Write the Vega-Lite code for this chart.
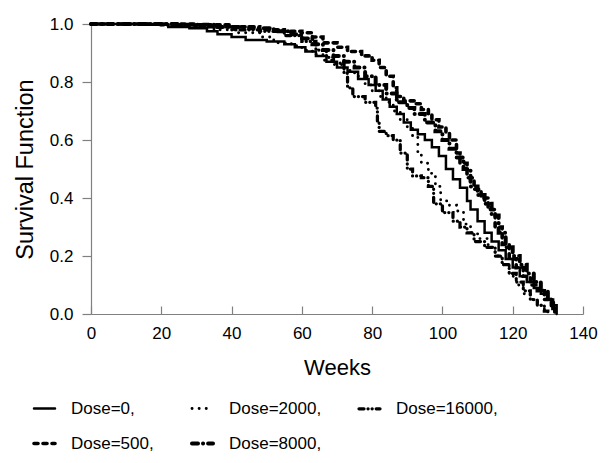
{
  "$schema": "https://vega.github.io/schema/vega-lite/v6.json",
  "width": 492,
  "height": 290,
  "autosize": {"type": "none"},
  "padding": {"left": 91, "top": 24, "right": 31, "bottom": 149},
  "background": "white",
  "config": {
    "view": {"stroke": null},
    "font": "Liberation Sans",
    "axis": {"grid": false, "domainColor": "#808080", "tickColor": "#808080", "labelColor": "#000", "titleColor": "#000", "labelFont": "Liberation Sans", "titleFont": "Liberation Sans", "labelFontSize": 17, "titleFontSize": 22, "titleFontWeight": "normal", "domainWidth": 1.2, "tickWidth": 1.2},
    "legend": {"labelFont": "Liberation Sans", "labelFontSize": 17, "labelColor": "#000"}
  },
  "datasets": {
    "km": [
      {"dose": "Dose=0,", "w": 0, "s": 1}, {"dose": "Dose=0,", "w": 15, "s": 0.997}, {"dose": "Dose=0,", "w": 22, "s": 0.99}, {"dose": "Dose=0,", "w": 28, "s": 0.985}, {"dose": "Dose=0,", "w": 33, "s": 0.975}, {"dose": "Dose=0,", "w": 36, "s": 0.965}, {"dose": "Dose=0,", "w": 40, "s": 0.955}, {"dose": "Dose=0,", "w": 44, "s": 0.945}, {"dose": "Dose=0,", "w": 50, "s": 0.94}, {"dose": "Dose=0,", "w": 55, "s": 0.93}, {"dose": "Dose=0,", "w": 58, "s": 0.92}, {"dose": "Dose=0,", "w": 61, "s": 0.905}, {"dose": "Dose=0,", "w": 64, "s": 0.89}, {"dose": "Dose=0,", "w": 67, "s": 0.87}, {"dose": "Dose=0,", "w": 70, "s": 0.85}, {"dose": "Dose=0,", "w": 73, "s": 0.835}, {"dose": "Dose=0,", "w": 76, "s": 0.81}, {"dose": "Dose=0,", "w": 79, "s": 0.79}, {"dose": "Dose=0,", "w": 81, "s": 0.77}, {"dose": "Dose=0,", "w": 83, "s": 0.74}, {"dose": "Dose=0,", "w": 85, "s": 0.715}, {"dose": "Dose=0,", "w": 87, "s": 0.69}, {"dose": "Dose=0,", "w": 89, "s": 0.66}, {"dose": "Dose=0,", "w": 91, "s": 0.635}, {"dose": "Dose=0,", "w": 93, "s": 0.62}, {"dose": "Dose=0,", "w": 95, "s": 0.6}, {"dose": "Dose=0,", "w": 97, "s": 0.575}, {"dose": "Dose=0,", "w": 99, "s": 0.545}, {"dose": "Dose=0,", "w": 101, "s": 0.5}, {"dose": "Dose=0,", "w": 103, "s": 0.465}, {"dose": "Dose=0,", "w": 105, "s": 0.435}, {"dose": "Dose=0,", "w": 107, "s": 0.39}, {"dose": "Dose=0,", "w": 108, "s": 0.36}, {"dose": "Dose=0,", "w": 110, "s": 0.32}, {"dose": "Dose=0,", "w": 112, "s": 0.28}, {"dose": "Dose=0,", "w": 114, "s": 0.25}, {"dose": "Dose=0,", "w": 116, "s": 0.22}, {"dose": "Dose=0,", "w": 118, "s": 0.19}, {"dose": "Dose=0,", "w": 120, "s": 0.16}, {"dose": "Dose=0,", "w": 122, "s": 0.13}, {"dose": "Dose=0,", "w": 124, "s": 0.11}, {"dose": "Dose=0,", "w": 126, "s": 0.09}, {"dose": "Dose=0,", "w": 128, "s": 0.07}, {"dose": "Dose=0,", "w": 130, "s": 0.05}, {"dose": "Dose=0,", "w": 131.5, "s": 0.03}, {"dose": "Dose=0,", "w": 132.5, "s": 0},

      {"dose": "Dose=500,", "w": 0, "s": 1}, {"dose": "Dose=500,", "w": 30, "s": 0.997}, {"dose": "Dose=500,", "w": 40, "s": 0.99}, {"dose": "Dose=500,", "w": 48, "s": 0.98}, {"dose": "Dose=500,", "w": 55, "s": 0.975}, {"dose": "Dose=500,", "w": 60, "s": 0.97}, {"dose": "Dose=500,", "w": 63, "s": 0.955}, {"dose": "Dose=500,", "w": 66, "s": 0.935}, {"dose": "Dose=500,", "w": 70, "s": 0.92}, {"dose": "Dose=500,", "w": 73, "s": 0.905}, {"dose": "Dose=500,", "w": 77, "s": 0.89}, {"dose": "Dose=500,", "w": 80, "s": 0.875}, {"dose": "Dose=500,", "w": 82, "s": 0.85}, {"dose": "Dose=500,", "w": 84, "s": 0.82}, {"dose": "Dose=500,", "w": 86, "s": 0.78}, {"dose": "Dose=500,", "w": 87, "s": 0.75}, {"dose": "Dose=500,", "w": 89, "s": 0.735}, {"dose": "Dose=500,", "w": 92, "s": 0.725}, {"dose": "Dose=500,", "w": 94, "s": 0.705}, {"dose": "Dose=500,", "w": 96, "s": 0.69}, {"dose": "Dose=500,", "w": 97, "s": 0.67}, {"dose": "Dose=500,", "w": 99, "s": 0.645}, {"dose": "Dose=500,", "w": 101, "s": 0.625}, {"dose": "Dose=500,", "w": 102, "s": 0.6}, {"dose": "Dose=500,", "w": 104, "s": 0.555}, {"dose": "Dose=500,", "w": 105, "s": 0.52}, {"dose": "Dose=500,", "w": 107, "s": 0.47}, {"dose": "Dose=500,", "w": 109, "s": 0.43}, {"dose": "Dose=500,", "w": 111, "s": 0.4}, {"dose": "Dose=500,", "w": 113, "s": 0.36}, {"dose": "Dose=500,", "w": 115, "s": 0.3}, {"dose": "Dose=500,", "w": 117, "s": 0.24}, {"dose": "Dose=500,", "w": 119, "s": 0.19}, {"dose": "Dose=500,", "w": 121, "s": 0.16}, {"dose": "Dose=500,", "w": 123, "s": 0.13}, {"dose": "Dose=500,", "w": 125, "s": 0.1}, {"dose": "Dose=500,", "w": 127, "s": 0.08}, {"dose": "Dose=500,", "w": 129, "s": 0.05}, {"dose": "Dose=500,", "w": 131, "s": 0.02}, {"dose": "Dose=500,", "w": 132, "s": 0},

      {"dose": "Dose=2000,", "w": 0, "s": 1}, {"dose": "Dose=2000,", "w": 20, "s": 0.995}, {"dose": "Dose=2000,", "w": 28, "s": 0.99}, {"dose": "Dose=2000,", "w": 35, "s": 0.98}, {"dose": "Dose=2000,", "w": 42, "s": 0.97}, {"dose": "Dose=2000,", "w": 48, "s": 0.955}, {"dose": "Dose=2000,", "w": 52, "s": 0.935}, {"dose": "Dose=2000,", "w": 57, "s": 0.925}, {"dose": "Dose=2000,", "w": 60, "s": 0.91}, {"dose": "Dose=2000,", "w": 63, "s": 0.895}, {"dose": "Dose=2000,", "w": 66, "s": 0.875}, {"dose": "Dose=2000,", "w": 69, "s": 0.86}, {"dose": "Dose=2000,", "w": 72, "s": 0.84}, {"dose": "Dose=2000,", "w": 75, "s": 0.82}, {"dose": "Dose=2000,", "w": 78, "s": 0.79}, {"dose": "Dose=2000,", "w": 80, "s": 0.77}, {"dose": "Dose=2000,", "w": 82, "s": 0.75}, {"dose": "Dose=2000,", "w": 84, "s": 0.73}, {"dose": "Dose=2000,", "w": 86, "s": 0.7}, {"dose": "Dose=2000,", "w": 88, "s": 0.67}, {"dose": "Dose=2000,", "w": 90, "s": 0.64}, {"dose": "Dose=2000,", "w": 91.5, "s": 0.61}, {"dose": "Dose=2000,", "w": 93, "s": 0.555}, {"dose": "Dose=2000,", "w": 94, "s": 0.52}, {"dose": "Dose=2000,", "w": 96, "s": 0.485}, {"dose": "Dose=2000,", "w": 98, "s": 0.44}, {"dose": "Dose=2000,", "w": 99.5, "s": 0.39}, {"dose": "Dose=2000,", "w": 102, "s": 0.375}, {"dose": "Dose=2000,", "w": 104, "s": 0.355}, {"dose": "Dose=2000,", "w": 106, "s": 0.31}, {"dose": "Dose=2000,", "w": 108, "s": 0.28}, {"dose": "Dose=2000,", "w": 110, "s": 0.26}, {"dose": "Dose=2000,", "w": 113, "s": 0.23}, {"dose": "Dose=2000,", "w": 115, "s": 0.2}, {"dose": "Dose=2000,", "w": 117, "s": 0.17}, {"dose": "Dose=2000,", "w": 119, "s": 0.13}, {"dose": "Dose=2000,", "w": 121, "s": 0.1}, {"dose": "Dose=2000,", "w": 123, "s": 0.07}, {"dose": "Dose=2000,", "w": 125, "s": 0.05}, {"dose": "Dose=2000,", "w": 127, "s": 0.03}, {"dose": "Dose=2000,", "w": 129, "s": 0},

      {"dose": "Dose=8000,", "w": 0, "s": 1}, {"dose": "Dose=8000,", "w": 25, "s": 0.997}, {"dose": "Dose=8000,", "w": 35, "s": 0.99}, {"dose": "Dose=8000,", "w": 45, "s": 0.985}, {"dose": "Dose=8000,", "w": 52, "s": 0.975}, {"dose": "Dose=8000,", "w": 57, "s": 0.965}, {"dose": "Dose=8000,", "w": 60, "s": 0.95}, {"dose": "Dose=8000,", "w": 63, "s": 0.93}, {"dose": "Dose=8000,", "w": 66, "s": 0.91}, {"dose": "Dose=8000,", "w": 69, "s": 0.89}, {"dose": "Dose=8000,", "w": 72, "s": 0.87}, {"dose": "Dose=8000,", "w": 75, "s": 0.85}, {"dose": "Dose=8000,", "w": 78, "s": 0.82}, {"dose": "Dose=8000,", "w": 81, "s": 0.79}, {"dose": "Dose=8000,", "w": 84, "s": 0.76}, {"dose": "Dose=8000,", "w": 87, "s": 0.73}, {"dose": "Dose=8000,", "w": 90, "s": 0.71}, {"dose": "Dose=8000,", "w": 92, "s": 0.69}, {"dose": "Dose=8000,", "w": 95, "s": 0.66}, {"dose": "Dose=8000,", "w": 98, "s": 0.63}, {"dose": "Dose=8000,", "w": 100, "s": 0.6}, {"dose": "Dose=8000,", "w": 102, "s": 0.57}, {"dose": "Dose=8000,", "w": 104, "s": 0.54}, {"dose": "Dose=8000,", "w": 106, "s": 0.5}, {"dose": "Dose=8000,", "w": 108, "s": 0.44}, {"dose": "Dose=8000,", "w": 110, "s": 0.41}, {"dose": "Dose=8000,", "w": 112, "s": 0.38}, {"dose": "Dose=8000,", "w": 114, "s": 0.34}, {"dose": "Dose=8000,", "w": 116, "s": 0.28}, {"dose": "Dose=8000,", "w": 118, "s": 0.23}, {"dose": "Dose=8000,", "w": 120, "s": 0.2}, {"dose": "Dose=8000,", "w": 122, "s": 0.17}, {"dose": "Dose=8000,", "w": 124, "s": 0.14}, {"dose": "Dose=8000,", "w": 126, "s": 0.11}, {"dose": "Dose=8000,", "w": 128, "s": 0.08}, {"dose": "Dose=8000,", "w": 130, "s": 0.05}, {"dose": "Dose=8000,", "w": 131.5, "s": 0.02}, {"dose": "Dose=8000,", "w": 132, "s": 0},

      {"dose": "Dose=16000,", "w": 0, "s": 1}, {"dose": "Dose=16000,", "w": 20, "s": 0.997}, {"dose": "Dose=16000,", "w": 30, "s": 0.99}, {"dose": "Dose=16000,", "w": 40, "s": 0.98}, {"dose": "Dose=16000,", "w": 48, "s": 0.975}, {"dose": "Dose=16000,", "w": 55, "s": 0.96}, {"dose": "Dose=16000,", "w": 60, "s": 0.94}, {"dose": "Dose=16000,", "w": 64, "s": 0.91}, {"dose": "Dose=16000,", "w": 67, "s": 0.885}, {"dose": "Dose=16000,", "w": 69, "s": 0.865}, {"dose": "Dose=16000,", "w": 72, "s": 0.83}, {"dose": "Dose=16000,", "w": 73, "s": 0.78}, {"dose": "Dose=16000,", "w": 74.5, "s": 0.75}, {"dose": "Dose=16000,", "w": 78, "s": 0.73}, {"dose": "Dose=16000,", "w": 81, "s": 0.71}, {"dose": "Dose=16000,", "w": 81.5, "s": 0.66}, {"dose": "Dose=16000,", "w": 82, "s": 0.63}, {"dose": "Dose=16000,", "w": 84, "s": 0.615}, {"dose": "Dose=16000,", "w": 86, "s": 0.6}, {"dose": "Dose=16000,", "w": 88, "s": 0.555}, {"dose": "Dose=16000,", "w": 90, "s": 0.5}, {"dose": "Dose=16000,", "w": 91.5, "s": 0.476}, {"dose": "Dose=16000,", "w": 94, "s": 0.47}, {"dose": "Dose=16000,", "w": 96, "s": 0.44}, {"dose": "Dose=16000,", "w": 97.5, "s": 0.38}, {"dose": "Dose=16000,", "w": 100, "s": 0.35}, {"dose": "Dose=16000,", "w": 103, "s": 0.32}, {"dose": "Dose=16000,", "w": 105, "s": 0.3}, {"dose": "Dose=16000,", "w": 107, "s": 0.28}, {"dose": "Dose=16000,", "w": 109, "s": 0.25}, {"dose": "Dose=16000,", "w": 112, "s": 0.23}, {"dose": "Dose=16000,", "w": 115, "s": 0.2}, {"dose": "Dose=16000,", "w": 117, "s": 0.17}, {"dose": "Dose=16000,", "w": 119, "s": 0.14}, {"dose": "Dose=16000,", "w": 121, "s": 0.11}, {"dose": "Dose=16000,", "w": 123, "s": 0.08}, {"dose": "Dose=16000,", "w": 125, "s": 0.05}, {"dose": "Dose=16000,", "w": 127, "s": 0.03}, {"dose": "Dose=16000,", "w": 129, "s": 0.01}, {"dose": "Dose=16000,", "w": 130, "s": 0}
    ]
  },
  "layer": [
    {
      "mark": {"type": "rule", "color": "#808080", "strokeWidth": 1.2},
      "encoding": {"y": {"datum": 1, "type": "quantitative", "scale": {"domain": [0, 1]}}}
    },
    {
      "data": {"name": "km"},
      "mark": {"type": "line", "interpolate": "step-after", "color": "black", "strokeCap": "round", "clip": false},
      "encoding": {
        "x": {"field": "w", "type": "quantitative", "title": "Weeks", "scale": {"domain": [0, 140], "nice": false, "zero": true},
          "axis": {"values": [0, 20, 40, 60, 80, 100, 120, 140], "tickSize": -8, "labelPadding": 19, "labelFlush": false, "titlePadding": 16}},
        "y": {"field": "s", "type": "quantitative", "title": "Survival Function", "scale": {"domain": [0, 1], "nice": false},
          "axis": {"values": [0, 0.2, 0.4, 0.6, 0.8, 1.0], "format": ".1f", "tickSize": 9, "labelPadding": 9, "titlePadding": 12, "titleFontSize": 23.5, "labelFlush": false}},
        "strokeDash": {"field": "dose", "type": "nominal", "title": null,
          "scale": {"domain": ["Dose=0,", "Dose=2000,", "Dose=16000,", "Dose=500,", "Dose=8000,"],
            "range": [[1, 0], [0.1, 7], [5, 4, 0.1, 4, 0.1, 4], [4, 5], [6, 5, 0.1, 5]]},
          "legend": {"orient": "none", "legendX": -59, "legendY": 372, "columns": 3, "direction": "horizontal", "symbolType": "stroke", "symbolSize": 441, "symbolStrokeColor": "black", "columnPadding": 30, "rowPadding": 14, "labelOffset": 14, "labelFontSize": 17,
            "encode": {"symbols": {"update": {"strokeCap": {"value": "round"}}}}}},
        "strokeWidth": {"field": "dose", "type": "nominal", "title": null,
          "scale": {"domain": ["Dose=0,", "Dose=2000,", "Dose=16000,", "Dose=500,", "Dose=8000,"], "range": [2.5, 4, 2.5, 2.5, 2.5]},
          "legend": {"orient": "none", "legendX": -59, "legendY": 372, "columns": 3, "direction": "horizontal", "symbolType": "stroke", "symbolSize": 441, "symbolStrokeColor": "black", "columnPadding": 30, "rowPadding": 14, "labelOffset": 14, "labelFontSize": 17,
            "encode": {"symbols": {"update": {"strokeCap": {"value": "round"}}}}}}
      }
    }
  ]
}
